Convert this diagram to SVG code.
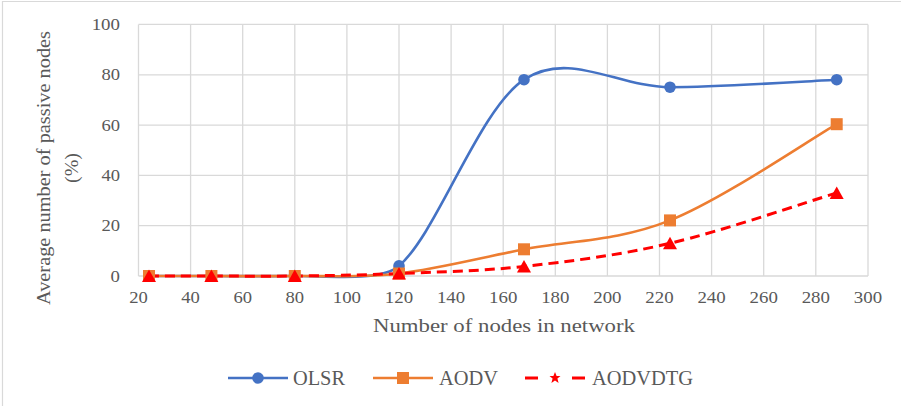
<svg xmlns="http://www.w3.org/2000/svg" width="901" height="406" viewBox="0 0 901 406" font-family="Liberation Serif, Times New Roman, Times, DejaVu Serif, serif">
<style>
.grid{stroke:#d9d9d9;stroke-width:1.3;fill:none}
text{fill:#595959}
.tick{font-size:16px}
.ytick{text-anchor:end}
.xtick{text-anchor:middle}
.title{font-size:19.5px;text-anchor:middle}
.leg{font-size:20px}
.olsr{stroke:#4472C4;stroke-width:2.6;fill:none}
.aodv{stroke:#ED7D31;stroke-width:2.6;fill:none}
.dtg{stroke:#FF0000;stroke-width:3;fill:none;stroke-dasharray:10 6}
.mo{fill:#4472C4}
.ma{fill:#ED7D31}
.md{fill:#FF0000}
</style>
<defs>
<circle id="circ" r="5.8"/>
<rect id="sq" x="-6" y="-6" width="12" height="12"/>
<polygon id="tri" points="0,-6.5 -7,6 7,6"/>
</defs>
<rect x="0" y="0" width="901" height="406" fill="#ffffff"/>
<path d="M2.5,406 V1.5 H901" stroke="#d9d9d9" stroke-width="1.2" fill="none"/>
<g id="gridlines" class="grid">
<path d="M138.5,24.4 H868 M138.5,74.8 H868 M138.5,125.1 H868 M138.5,175.4 H868 M138.5,225.7 H868 M138.5,276 H868"/>
<path d="M138.5,24.4 V276 M190.6,24.4 V276 M242.7,24.4 V276 M294.8,24.4 V276 M346.9,24.4 V276 M399,24.4 V276 M451.1,24.4 V276 M503.2,24.4 V276 M555.3,24.4 V276 M607.4,24.4 V276 M659.5,24.4 V276 M711.6,24.4 V276 M763.7,24.4 V276 M815.8,24.4 V276 M868,24.4 V276"/>
</g>
<g id="y-ticks" class="tick ytick">
<text x="120" y="281.5" textLength="9.4" lengthAdjust="spacingAndGlyphs">0</text>
<text x="120" y="231.2" textLength="18.6" lengthAdjust="spacingAndGlyphs">20</text>
<text x="120" y="180.9" textLength="18.6" lengthAdjust="spacingAndGlyphs">40</text>
<text x="120" y="130.6" textLength="18.6" lengthAdjust="spacingAndGlyphs">60</text>
<text x="120" y="80.3" textLength="18.6" lengthAdjust="spacingAndGlyphs">80</text>
<text x="120" y="29.9" textLength="28.3" lengthAdjust="spacingAndGlyphs">100</text>
</g>
<g id="x-ticks" class="tick xtick">
<text x="138.5" y="303" textLength="18.6" lengthAdjust="spacingAndGlyphs">20</text>
<text x="190.6" y="303" textLength="18.6" lengthAdjust="spacingAndGlyphs">40</text>
<text x="242.7" y="303" textLength="18.6" lengthAdjust="spacingAndGlyphs">60</text>
<text x="294.8" y="303" textLength="18.6" lengthAdjust="spacingAndGlyphs">80</text>
<text x="346.9" y="303" textLength="28.3" lengthAdjust="spacingAndGlyphs">100</text>
<text x="399" y="303" textLength="28.3" lengthAdjust="spacingAndGlyphs">120</text>
<text x="451.1" y="303" textLength="28.3" lengthAdjust="spacingAndGlyphs">140</text>
<text x="503.2" y="303" textLength="28.3" lengthAdjust="spacingAndGlyphs">160</text>
<text x="555.3" y="303" textLength="28.3" lengthAdjust="spacingAndGlyphs">180</text>
<text x="607.4" y="303" textLength="28.3" lengthAdjust="spacingAndGlyphs">200</text>
<text x="659.5" y="303" textLength="28.3" lengthAdjust="spacingAndGlyphs">220</text>
<text x="711.6" y="303" textLength="28.3" lengthAdjust="spacingAndGlyphs">240</text>
<text x="763.7" y="303" textLength="28.3" lengthAdjust="spacingAndGlyphs">260</text>
<text x="815.8" y="303" textLength="28.3" lengthAdjust="spacingAndGlyphs">280</text>
<text x="868" y="303" textLength="28.3" lengthAdjust="spacingAndGlyphs">300</text>
</g>
<g id="x-title" class="title"><text x="504" y="332" textLength="262" lengthAdjust="spacingAndGlyphs">Number of nodes in network</text></g>
<g id="y-title" class="title">
<text transform="translate(50,168) rotate(-90)" textLength="274" lengthAdjust="spacingAndGlyphs">Average number of passive nodes</text>
<text transform="translate(78,168) rotate(-90)" textLength="30" lengthAdjust="spacingAndGlyphs">(%)</text>
</g>
<g id="connectors">
<path id="line-olsr" class="olsr" d="M149,276 C159.4,276 187.1,276 211.4,276 C235.7,276 263.5,276.4 294.8,276 C326.1,275.6 379.9,282.3 399,265.9 C437.2,233.2 478.8,109.5 524,79.7 C569.2,49.9 617.9,87.2 670,87.2 C722.1,87.2 808.9,81 836.7,79.7"/>
<path id="line-aodv" class="aodv" d="M149,276 C159.4,276 187.1,276 211.4,276 C235.7,276 263.5,276.4 294.8,276 C326.1,275.6 360.8,278 399,273.5 C437.2,269 478.8,258.2 524,249.3 C569.2,240.5 617.9,241.3 670,220.4 C722.1,199.6 808.9,140.2 836.7,124.2"/>
<path id="line-dtg" class="dtg" d="M149,276 C159.4,276 187.1,276 211.4,276 C235.7,276 263.5,276.4 294.8,276 C326.1,275.6 360.8,275.1 399,273.5 C437.2,271.9 478.8,271.4 524,266.4 C569.2,261.4 617.9,255.6 670,243.3 C722.1,231.1 808.9,201.3 836.7,192.9"/>
</g>
<g id="olsr-points" class="mo">
<use href="#circ" x="149" y="276"/>
<use href="#circ" x="211.4" y="276"/>
<use href="#circ" x="294.8" y="276"/>
<use href="#circ" x="399" y="265.9"/>
<use href="#circ" x="524" y="79.7"/>
<use href="#circ" x="670" y="87.2"/>
<use href="#circ" x="836.7" y="79.7"/>
</g>
<g id="aodv-points" class="ma">
<use href="#sq" x="149" y="276"/>
<use href="#sq" x="211.4" y="276"/>
<use href="#sq" x="294.8" y="276"/>
<use href="#sq" x="399" y="273.5"/>
<use href="#sq" x="524" y="249.3"/>
<use href="#sq" x="670" y="220.4"/>
<use href="#sq" x="836.7" y="124.2"/>
</g>
<g id="dtg-points" class="md">
<use href="#tri" x="149" y="276"/>
<use href="#tri" x="211.4" y="276"/>
<use href="#tri" x="294.8" y="276"/>
<use href="#tri" x="399" y="273.5"/>
<use href="#tri" x="524" y="266.4"/>
<use href="#tri" x="670" y="243.3"/>
<use href="#tri" x="836.7" y="192.9"/>
</g>
<g id="legend">
<g id="legend-olsr">
<path class="olsr" d="M228,378 H288"/>
<use href="#circ" class="mo" x="258" y="378"/>
<text class="leg" x="293" y="385" textLength="52" lengthAdjust="spacingAndGlyphs">OLSR</text>
</g>
<g id="legend-aodv">
<path class="aodv" d="M373,378 H433"/>
<use href="#sq" class="ma" x="403" y="378"/>
<text class="leg" x="439" y="385" textLength="59" lengthAdjust="spacingAndGlyphs">AODV</text>
</g>
<g id="legend-dtg">
<path d="M525,378 H538 M572,378 H585" stroke="#FF0000" stroke-width="3"/>
<polygon class="md" points="555,372 556.6,376 560.5,376 557.4,378.6 558.6,383 555,380.4 551.4,383 552.6,378.6 549.5,376 553.4,376"/>
<text class="leg" x="592" y="385" textLength="101" lengthAdjust="spacingAndGlyphs">AODVDTG</text>
</g>
</g>
</svg>
